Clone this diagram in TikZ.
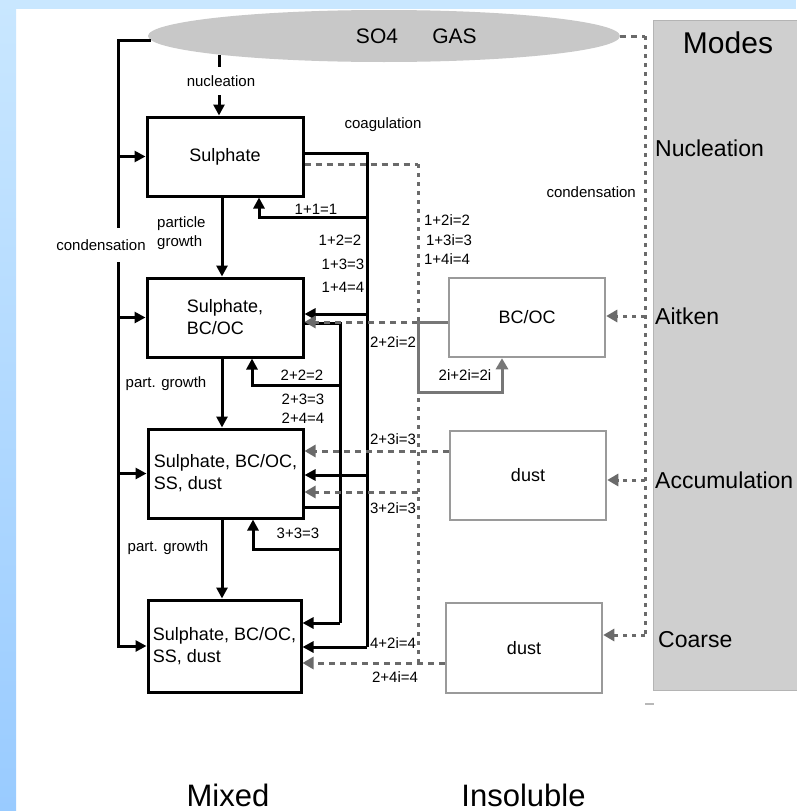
\documentclass[tikz,border=0pt]{standalone}
\usepackage{fontspec}
\setmainfont{Liberation Sans}
\usetikzlibrary{arrows.meta,shapes.geometric}
\definecolor{bgblue}{HTML}{C9E7FF}
\definecolor{bgblue2}{HTML}{99CBFF}
\definecolor{gasgray}{HTML}{C8C8C8}
\definecolor{modegray}{HTML}{CFCFCF}
\definecolor{modeedge}{HTML}{B4B4B4}
\definecolor{dashgray}{HTML}{6A6A6A}
\definecolor{boxgray}{HTML}{9A9A9A}
\definecolor{solgray}{HTML}{777777}
\begin{document}
\begin{tikzpicture}[x=1pt,y=-1pt,
  blk/.style={line width=3pt,black},
  tipb/.style={-{Triangle[length=11pt,width=11pt]}},
  tipg/.style={-{Triangle[length=11pt,width=12pt]}},
  gdash/.style={line width=3pt,dashgray,dash pattern=on 6pt off 5pt},
  gdot/.style={line width=3pt,dashgray,dash pattern=on 4pt off 5pt},
  gsolid/.style={line width=3pt,solgray},
  mixbox/.style={draw,line width=3pt,fill=white,align=left,font=\fontsize{18}{22}\selectfont,inner sep=0pt},
  insbox/.style={draw=boxgray,line width=2.5pt,fill=white,font=\fontsize{18}{22}\selectfont,inner sep=0pt},
  lab/.style={font=\fontsize{15}{19}\selectfont,inner sep=1pt},
  modelab/.style={font=\fontsize{23}{27}\selectfont,anchor=west,inner sep=0pt},
  big/.style={font=\fontsize{31}{36}\selectfont,anchor=base,inner sep=0pt}]

\useasboundingbox (0,0) rectangle (796,811);
\fill[white] (0,0) rectangle (796,811);
\fill[bgblue] (0,0) rectangle (796,9);
\shade[top color=bgblue, bottom color=bgblue2] (0,0) rectangle (16,811);

% modes panel
\node[draw=modeedge,line width=1pt,fill=modegray,minimum width=147pt,minimum height=670pt,anchor=north west,inner sep=0pt] (modes) at (653,20) {};
\draw[boxgray!70,line width=1.5pt] (645,704) -- (654,704);

% gas ellipse
\node[ellipse,fill=gasgray,minimum width=472pt,minimum height=52pt,inner sep=0pt] (gas) at (384,36) {};
\node[font=\fontsize{21}{25}\selectfont,inner sep=0pt] (so4) at (377,36) {SO4};
\node[font=\fontsize{21}{25}\selectfont,inner sep=0pt] (gastxt) at (454.5,36) {GAS};

% mixed boxes
\node[mixbox,minimum width=156pt,minimum height=79pt] (b1) at (225,156.5) {Sulphate};
\node[mixbox,minimum width=156pt,minimum height=79pt] (b2) at (225,317.5) {Sulphate,\\BC/OC};
\node[mixbox,minimum width=155pt,minimum height=89pt] (b3) at (225.5,473.5) {Sulphate, BC/OC,\\SS, dust};
\node[mixbox,minimum width=153pt,minimum height=92pt] (b4) at (224.5,646) {Sulphate, BC/OC,\\SS, dust};

% insoluble boxes
\node[insbox,minimum width=156pt,minimum height=79pt] (i1) at (527,317.5) {BC/OC};
\node[insbox,minimum width=156pt,minimum height=89pt] (i2) at (528,475.5) {dust};
\node[insbox,minimum width=156pt,minimum height=90pt] (i3) at (524,648) {dust};

% helper coordinates
\coordinate (cl0) at (118,40);
\coordinate (cl1) at (118,228);
\coordinate (cl2) at (118,262);
\coordinate (n0) at (219,55);
\coordinate (n1) at (219,67);
\coordinate (n2) at (219,95);
\coordinate (gx) at (222,0);
\coordinate (A) at (367,153);
\coordinate (Ab) at (367,647);
\coordinate (A11) at (367,217);
\coordinate (x11) at (259,0);
\coordinate (A12) at (367,314);
\coordinate (A13) at (367,475);
\coordinate (B) at (340,323);
\coordinate (Bb) at (340,623);
\coordinate (B22) at (340,385);
\coordinate (x22) at (252,0);
\coordinate (B3) at (340,507);
\coordinate (B33) at (340,549);
\coordinate (x33) at (253,0);
\coordinate (D) at (418,164);
\coordinate (Db) at (418,663);
\coordinate (D2) at (418,322);
\coordinate (D2b) at (418,392);
\coordinate (x2i) at (502,0);
\coordinate (y451) at (0,451);
\coordinate (D4) at (418,492);
\coordinate (E0) at (645,36);
\coordinate (E1) at (645,316);
\coordinate (E2) at (645,480);
\coordinate (Eb) at (645,635);

% condensation (left)
\draw[blk] (gas.181) -| (cl1);
\draw[blk,tipb] (cl2) |- (b4.west);
\draw[blk,tipb] (cl0 |- b1.west) -- (b1.west);
\draw[blk,tipb] (cl0 |- b2.west) -- (b2.west);
\draw[blk,tipb] (cl0 |- b3.west) -- (b3.west);
\node[lab] (condL) at (101,245) {condensation};

% nucleation
\draw[blk] (n0) -- (n1);
\draw[blk,tipb] (n2) -- (n2 |- b1.north);
\node[lab] (nuc) at (221,81) {nucleation};

% particle growth
\draw[blk,tipb] (b1.south -| gx) -- (b2.north -| gx);
\draw[blk,tipb] (b2.south -| gx) -- (b3.north -| gx);
\draw[blk,tipb] (b3.south -| gx) -- (b4.north -| gx);
\node[lab,align=left,anchor=west] (pg1) at (156,233.5) {particle\\growth};
\node[lab] (pg2) at (166,384) {part. growth};
\node[lab] (pg3) at (168,548) {part. growth};

% coagulation (solid)
\draw[blk] (b1.east |- A) -- (A) -- (Ab);
\draw[blk,tipb] (Ab) -- (b4.east |- Ab);
\draw[blk,tipb] (A11) -| (b1.south -| x11);
\draw[blk,tipb] (A12) -- (b2.east |- A12);
\draw[blk,tipb] (A13) -- (b3.east |- A13);
\draw[blk] (b2.east |- B) -- (B) -- (Bb);
\draw[blk,tipb] (Bb) -- (b4.east |- Bb);
\draw[blk,tipb] (B22) -| (b2.south -| x22);
\draw[blk] (b3.east |- B3) -- (B3);
\draw[blk,tipb] (B33) -| (b3.south -| x33);

% coagulation with insoluble (grey)
\draw[gdash] (b1.east |- D) -- (D);
\draw[gdot] (D) -- (Db);
\draw[gdash,tipg] (D2) -- (b2.east |- D2);
\draw[gsolid,tipg] (i1.west |- D2) -- (D2) -- (D2b) -| (i1.south -| x2i);
\draw[gdash,tipg] (i2.west |- y451) -- (b3.east |- y451);
\draw[gdash,tipg] (D4) -- (b3.east |- D4);
\draw[gdash,tipg] (i3.west |- Db) -- (b4.east |- Db);

% condensation (right)
\draw[gdash] (gas.east) -- (E0);
\draw[gdot] (E0) -- (Eb);
\draw[gdot,tipg] (E1) -- (i1.east |- E1);
\draw[gdot,tipg] (E2) -- (i2.east |- E2);
\draw[gdot,tipg] (Eb) -- (i3.east |- Eb);
\node[lab,anchor=east] (condR) at (637,192) {condensation};

% labels
\node[lab] (coag) at (383,125) {coagulation};
\node[lab] (l11) at (316,209) {1+1=1};
\node[lab] (l12) at (340,240) {1+2=2};
\node[lab] (l13) at (343,264) {1+3=3};
\node[lab] (l14) at (343,287) {1+4=4};
\node[lab] (l22) at (302,375) {2+2=2};
\node[lab] (l23) at (303,399) {2+3=3};
\node[lab] (l24) at (303,418) {2+4=4};
\node[lab] (l33) at (298,533) {3+3=3};
\node[lab] (l12i) at (447,220) {1+2i=2};
\node[lab] (l13i) at (449,240) {1+3i=3};
\node[lab] (l14i) at (447,259) {1+4i=4};
\node[lab] (l22i) at (393,342) {2+2i=2};
\node[lab] (l23i) at (393,439) {2+3i=3};
\node[lab] (l32i) at (393,508) {3+2i=3};
\node[lab] (l42i) at (393,643) {4+2i=4};
\node[lab] (l24i) at (395,677) {2+4i=4};
\node[lab] (l2i) at (465,375) {2i+2i=2i};

% modes
\node[font=\fontsize{30}{34}\selectfont,inner sep=0pt] (mtitle) at (728,43) {Modes};
\node[modelab] (mnuc) at (655,148) {Nucleation};
\node[modelab] (mait) at (655,316) {Aitken};
\node[modelab] (macc) at (655,480) {Accumulation};
\node[modelab] (mcoa) at (658,640) {Coarse};

% bottom captions
\node[big] (mixed) at (228,806) {Mixed};
\node[big] (insol) at (523.5,806) {Insoluble};
\end{tikzpicture}
\end{document}
